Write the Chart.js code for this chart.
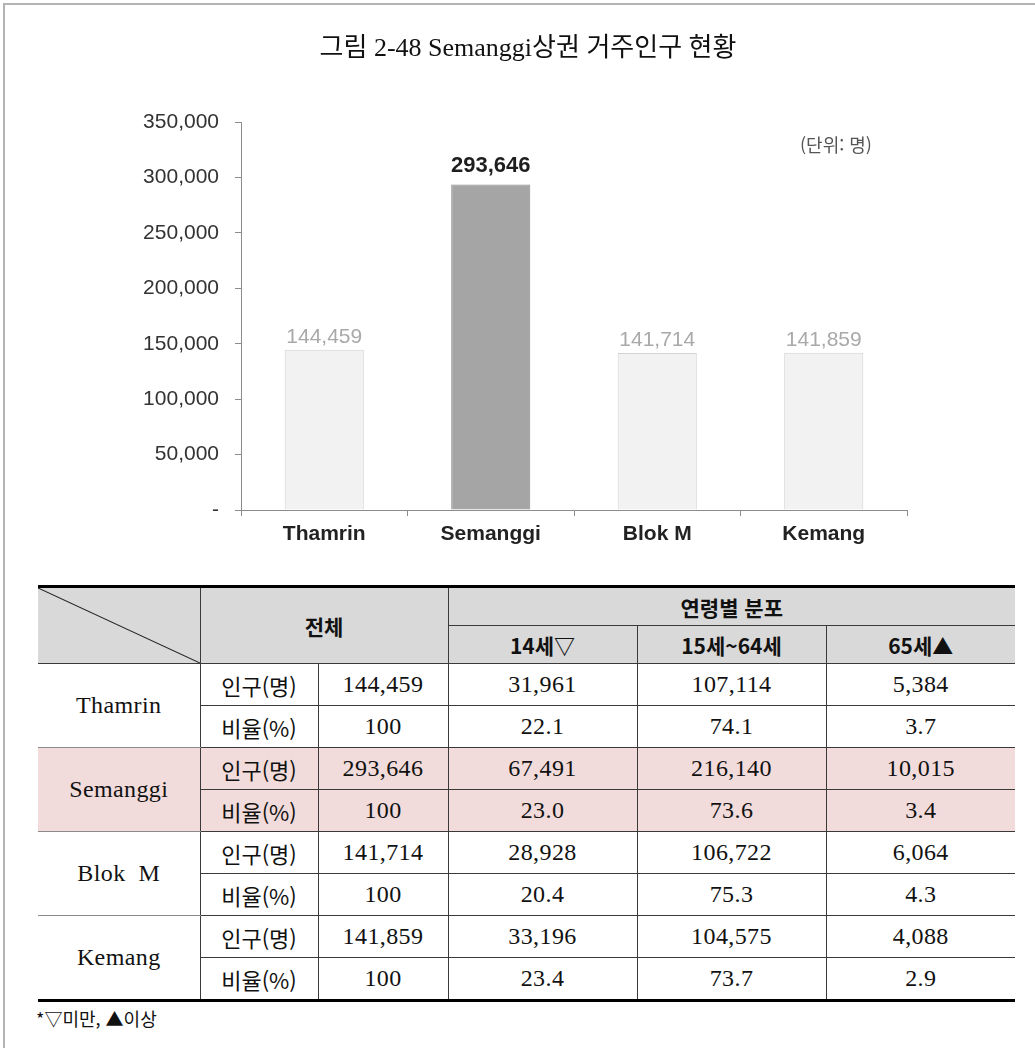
<!DOCTYPE html>
<html lang="ko">
<head>
<meta charset="utf-8">
<title>Semanggi상권 거주인구 현황</title>
<script src="https://cdn.jsdelivr.net/npm/chart.js@4.4.1/dist/chart.umd.min.js"></script>
<style>
  html, body { margin: 0; padding: 0; background: #fff; }
  body { width: 1035px; height: 1048px; position: relative; overflow: hidden; }
  .frame {
    position: absolute; left: 3px; top: 3px; right: 0; bottom: 0;
    border-left: 2px solid #b4b4b4; border-top: 2px solid #b4b4b4;
  }
  .title {
    position: absolute; left: 0; top: 26px; width: 1056px; text-align: center;
    font-family: "Liberation Serif", "Noto Sans CJK KR", serif; font-size: 26px; color: #111;
  }
  #chart { position: absolute; left: 0; top: 0; }
  .unit {
    position: absolute; left: 800px; top: 131px;
    font-family: "Noto Sans CJK KR", sans-serif; font-size: 18px; color: #555;
  }
  #stats {
    position: absolute; left: 38px; top: 585px; width: 977px;
    border-collapse: collapse; table-layout: fixed;
    font-family: "Liberation Serif", "Noto Sans CJK KR", serif; font-size: 24px; color: #111;
  }
  #stats th, #stats td {
    border: 1px solid #3a3a3a; padding: 0; text-align: center; vertical-align: middle;
    white-space: nowrap; letter-spacing: 0.4px;
  }
  #stats th {
    background: #d9d9d9; font-family: "Noto Sans CJK KR", sans-serif; font-weight: bold; font-size: 21px;
    letter-spacing: 0;
  }
  #stats thead tr:first-child th { border-top: 3px solid #000; height: 37px; }
  #stats thead tr:nth-child(2) th { height: 37px; }
  #stats tbody td { height: 41px; }
  #stats tbody tr:last-child td, #stats tbody td.name.last { border-bottom: 3px solid #000; }
  #stats .name, #stats .diag { border-left: none; }
  #stats .name { border-bottom-color: #8a8a8a; }
  #stats .edge { border-right: none; }
  #stats .diag {
    background-color: #d9d9d9;
    background-image: url("data:image/svg+xml;utf8,<svg xmlns='http://www.w3.org/2000/svg' viewBox='0 0 100 100' preserveAspectRatio='none'><line x1='0' y1='0' x2='100' y2='100' stroke='%23222' stroke-width='1.1' vector-effect='non-scaling-stroke'/></svg>");
    background-size: 100% 100%;
    background-repeat: no-repeat;
  }
  #stats .kind { font-family: "Noto Sans CJK KR", sans-serif; font-size: 22px; letter-spacing: 0; }
  #stats .hl td { background: #f2dcdb; }
  .note {
    position: absolute; left: 36px; top: 1005px;
    font-family: "Noto Sans CJK KR", sans-serif; font-size: 18px; color: #111;
  }
</style>
</head>
<body>
<div class="frame"></div>
<canvas id="chart" width="1035" height="575"></canvas>
<div class="title">그림 2-48 Semanggi상권 거주인구 현황</div>
<div class="unit">(단위: 명)</div>

<table id="stats">
  <colgroup>
    <col style="width:162px"><col style="width:118px"><col style="width:130px">
    <col style="width:189px"><col style="width:189px"><col style="width:189px">
  </colgroup>
  <thead>
    <tr>
      <th class="diag" rowspan="2"></th>
      <th colspan="2" rowspan="2">전체</th>
      <th colspan="3" class="edge">연령별 분포</th>
    </tr>
    <tr id="ageHead"></tr>
  </thead>
  <tbody id="statsBody"></tbody>
</table>
<div class="note">*▽미만, ▲이상</div>

<script>
// Residential population per commercial area (persons)
const areas = ['Thamrin', 'Semanggi', 'Blok M', 'Kemang'];
const population = [144459, 293646, 141714, 141859];
const highlightIndex = 1;

// Axis range
const yMin = 0;
const yMax = 350000;
const yStep = 50000;

// Age breakdown for the table
const ageGroups = ['14세▽', '15세~64세', '65세▲'];
const age0to14 = [31961, 67491, 28928, 33196];
const age15to64 = [107114, 216140, 106722, 104575];
const age65plus = [5384, 10015, 6064, 4088];
const share0to14 = ['22.1', '23.0', '20.4', '23.4'];
const share15to64 = ['74.1', '73.6', '75.3', '73.7'];
const share65plus = ['3.7', '3.4', '4.3', '2.9'];
const shareTotal = ['100', '100', '100', '100'];

const fmt = n => n.toLocaleString('en-US');

// Value labels above each bar
const valueLabels = {
  id: 'valueLabels',
  afterDatasetsDraw(chart) {
    const ctx = chart.ctx;
    const meta = chart.getDatasetMeta(0);
    meta.data.forEach((bar, i) => {
      const hi = i === highlightIndex;
      ctx.save();
      ctx.font = hi ? 'bold 22px "Liberation Sans", Arial, sans-serif' : '21px "Liberation Sans", Arial, sans-serif';
      ctx.fillStyle = hi ? '#1e1e1e' : '#a9a9a9';
      ctx.textAlign = 'center';
      ctx.textBaseline = 'alphabetic';
      ctx.fillText(fmt(population[i]), bar.x, bar.y - (hi ? 12 : 7));
      ctx.restore();
    });
  }
};

new Chart(document.getElementById('chart'), {
  type: 'bar',
  data: {
    labels: areas,
    datasets: [{
      data: population,
      backgroundColor: population.map((_, i) => i === highlightIndex ? '#a5a5a5' : '#f2f2f2'),
      borderColor: population.map((_, i) => i === highlightIndex ? '#8a8a8a' : '#d2d2d2'),
      borderWidth: 1,
      borderSkipped: 'bottom',
      barPercentage: 0.475,
      categoryPercentage: 1
    }]
  },
  options: {
    responsive: false,
    animation: false,
    events: [],
    layout: { padding: { left: 100, top: 122, right: 128, bottom: 0 } },
    plugins: {
      legend: { display: false },
      tooltip: { enabled: false }
    },
    scales: {
      x: {
        afterFit: scale => { scale.height = 65; },
        grid: { drawOnChartArea: false, drawTicks: true, tickLength: 6, color: '#8c8c8c', offset: true },
        border: { color: '#8c8c8c', width: 1 },
        ticks: {
          color: '#222',
          padding: 6,
          font: { family: '"Liberation Sans", Arial, sans-serif', size: 21, weight: 'bold' }
        }
      },
      y: {
        min: yMin,
        max: yMax,
        afterFit: scale => { scale.width = 141; },
        grid: { drawOnChartArea: false, drawTicks: true, tickLength: 6, color: '#8c8c8c' },
        border: { color: '#8c8c8c', width: 1 },
        ticks: {
          stepSize: yStep,
          color: '#333',
          padding: 16,
          font: { family: '"Liberation Sans", Arial, sans-serif', size: 21 },
          callback: v => v === 0 ? '-' : fmt(v)
        }
      }
    }
  },
  plugins: [valueLabels]
});

// Table below the chart
document.getElementById('ageHead').innerHTML = ageGroups
  .map((g, i) => `<th${i === ageGroups.length - 1 ? ' class="edge"' : ''}>${g}</th>`).join('');

document.getElementById('statsBody').innerHTML = areas.map((area, i) => {
  const hl = i === highlightIndex ? ' class="hl"' : '';
  const last = i === areas.length - 1 ? ' last' : '';
  return `
    <tr${hl}>
      <td class="name${last}" rowspan="2">${area.replace(' ', '&nbsp;&nbsp;')}</td>
      <td class="kind">인구(명)</td>
      <td>${fmt(population[i])}</td>
      <td>${fmt(age0to14[i])}</td>
      <td>${fmt(age15to64[i])}</td>
      <td class="edge">${fmt(age65plus[i])}</td>
    </tr>
    <tr${hl}>
      <td class="kind">비율(%)</td>
      <td>${shareTotal[i]}</td>
      <td>${share0to14[i]}</td>
      <td>${share15to64[i]}</td>
      <td class="edge">${share65plus[i]}</td>
    </tr>`;
}).join('');
</script>
</body>
</html>
